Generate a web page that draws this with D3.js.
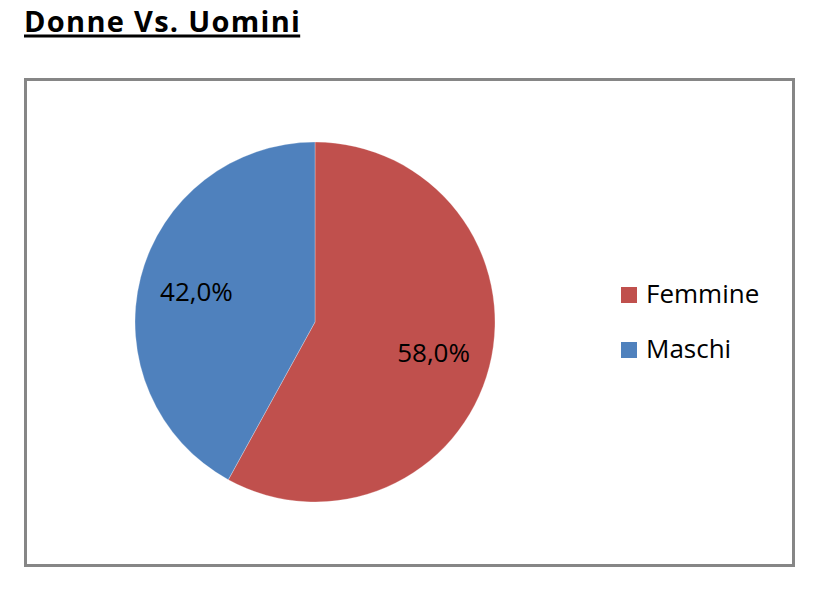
<!DOCTYPE html>
<html><head><meta charset="utf-8">
<script src="https://cdn.jsdelivr.net/npm/d3@7"></script>
<style>body{margin:0;background:#fff}svg{display:block}</style>
</head><body>
<script>
const categories = ["Femmine", "Maschi"];
const values = [58.0, 42.0];
const colors = ["#C0504D", "#4F81BD"];
const title = "Donne Vs. Uomini";

const W = 819, H = 607;
const svg = d3.select("body").append("svg").attr("width", W).attr("height", H);
const font = "'Open Sans', 'Noto Sans', sans-serif";

// title
const t = svg.append("text").attr("x", 24).attr("y", 32)
  .attr("font-family", font).attr("font-weight", "bold").attr("font-size", 29)
  .attr("letter-spacing", 1.3)
  .attr("fill", "#000").text(title);
const tw = t.node().getComputedTextLength();
svg.append("rect").attr("x", 24).attr("y", 34.5).attr("width", tw - 1).attr("height", 3).attr("fill", "#000");

// chart box
svg.append("rect").attr("x", 25.5).attr("y", 79.5).attr("width", 768).attr("height", 486)
  .attr("fill", "#fff").attr("stroke", "#868686").attr("stroke-width", 3);

const cx = 315, cy = 322, r = 180;
const pie = d3.pie().sort(null).value(d => d)(values);
const arc = d3.arc().innerRadius(0).outerRadius(r);
const labelArc = d3.arc().innerRadius(r * 0.68).outerRadius(r * 0.68);
const g = svg.append("g").attr("transform", `translate(${cx},${cy})`);
g.selectAll("path").data(pie).join("path")
  .attr("d", arc).attr("fill", (d, i) => colors[i])
  .attr("stroke", "rgba(255,255,255,0.35)").attr("stroke-width", 0.8);
const fmt = v => d3.format(".1f")(v).replace(".", ",") + "%";
g.selectAll("text").data(pie).join("text")
  .attr("transform", d => `translate(${labelArc.centroid(d)})`)
  .attr("text-anchor", "middle").attr("dy", "0.35em")
  .attr("font-family", font).attr("font-size", 26).attr("fill", "#000")
  .text(d => fmt(d.data));

// legend
const lg = svg.append("g").attr("transform", "translate(621,287)");
const items = lg.selectAll("g").data(categories).join("g")
  .attr("transform", (d, i) => `translate(0,${i * 55})`);
items.append("rect").attr("width", 16).attr("height", 16).attr("fill", (d, i) => colors[i]);
items.append("text").attr("x", 25).attr("y", 15.5)
  .attr("font-family", font).attr("font-size", 26).attr("fill", "#000").text(d => d);
</script>
</body></html>
